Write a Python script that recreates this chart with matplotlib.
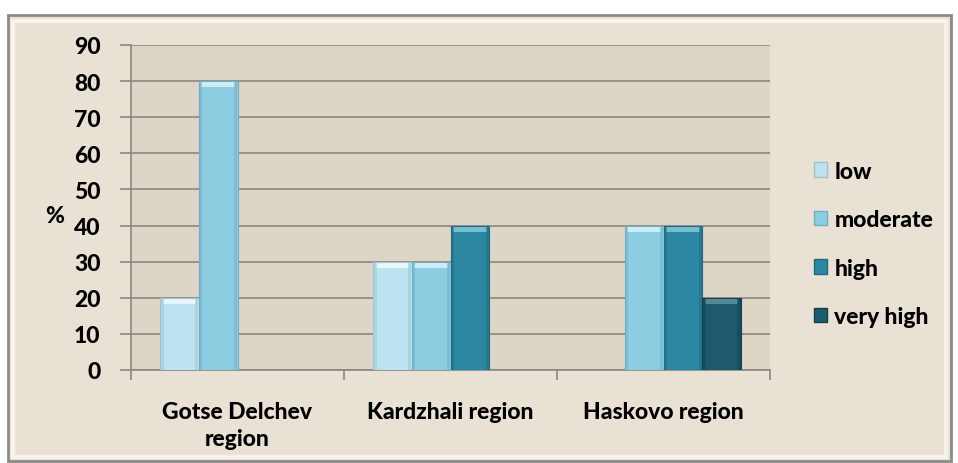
import numpy as np
import matplotlib.pyplot as plt
from matplotlib.patches import Rectangle, Patch

categories = ['Gotse Delchev\nregion', 'Kardzhali region', 'Haskovo region']
series = ['low', 'moderate', 'high', 'very high']
low = [20, 30, 0]
moderate = [80, 30, 40]
high = [0, 40, 40]
very_high = [0, 0, 20]
values = [low, moderate, high, very_high]
yticks = [0, 10, 20, 30, 40, 50, 60, 70, 80, 90]

colors = ['#BDE3F0', '#8DCDE2', '#2C87A3', '#1E5A6D']
caps = ['#E8F6FB', '#CDECF6', '#78BCD0', '#55899A']
edges = ['#9CC4D2', '#6EAFC4', '#21697F', '#163F4D']

plt.rcParams['font.family'] = ['Lato', 'DejaVu Sans']
FW = 'black'
FS = 16.5

fig = plt.figure(figsize=(9.58, 4.64), dpi=100)
fig.patch.set_facecolor('white')

# outer frame with bevel look
fig.patches.append(Rectangle((8 / 958, 2 / 464), 943 / 958, 446 / 464,
                             transform=fig.transFigure, facecolor='#E9E1D3',
                             edgecolor='#8A8A8A', linewidth=2, zorder=-2))
fig.patches.append(Rectangle((13 / 958, 6 / 464), 933 / 958, 436 / 464,
                             transform=fig.transFigure, facecolor='none',
                             edgecolor='#F7F3EA', linewidth=3, zorder=-1))

ax = fig.add_axes([131 / 958, 1 - 371 / 464, 639 / 958, 325 / 464])
ax.set_zorder(2)
ax.set_facecolor('#DDD5C6')

x = np.arange(len(categories))
w = 1 / 5.5
cap_h = 1.4
for i, vals in enumerate(values):
    pos = x + (i - 1.5) * w
    for p, v in zip(pos, vals):
        if v <= 0:
            continue
        ax.bar(p, v, w, color=colors[i], edgecolor=edges[i], linewidth=0.8, zorder=3)
        ax.bar(p, cap_h, w * 0.86, bottom=v - cap_h - 0.3, color=caps[i],
               linewidth=0, zorder=4)
        ax.bar(p - w * 0.45, v - 0.3, w * 0.08, bottom=0.1, color=edges[i],
               alpha=0.5, linewidth=0, zorder=4)
        ax.bar(p + w * 0.45, v - 0.3, w * 0.08, bottom=0.1, color=edges[i],
               alpha=0.5, linewidth=0, zorder=4)

ax.set_xlim(-0.5, len(categories) - 0.5)
ax.set_ylim(0, 90)
ax.set_yticks(yticks)
ax.set_yticklabels([str(t) for t in yticks], fontsize=FS, fontweight=FW)
ax.yaxis.grid(True, color='#8C8681', linewidth=1.2, zorder=1)
ax.set_axisbelow(True)

ax.set_xticks(x)
ax.set_xticklabels(categories, fontsize=FS, fontweight=FW, linespacing=1.35)
ax.set_xticks(np.arange(len(categories) + 1) - 0.5, minor=True)
ax.tick_params(axis='x', which='major', length=0, pad=22)
ax.tick_params(axis='x', which='minor', length=7, color='#8C8681', width=1.2)
ax.tick_params(axis='y', length=8, color='#8C8681', width=1.2, pad=14)

for s in ['top', 'right']:
    ax.spines[s].set_visible(False)
for s in ['left', 'bottom']:
    ax.spines[s].set_color('#8C8681')
    ax.spines[s].set_linewidth(1.2)

fig.text(55 / 958, 1 - 217 / 464, '%', fontsize=FS, fontweight=FW,
         ha='center', va='center')

handles = [Patch(facecolor=colors[i], edgecolor=edges[i], label=series[i])
           for i in range(len(series))]
leg = fig.legend(handles=handles, loc='upper left',
                 bbox_to_anchor=(793 / 958, 1 - 141 / 464), frameon=False,
                 prop={'size': FS, 'weight': FW}, labelspacing=1.2,
                 handlelength=0.6, handleheight=0.6, handletextpad=0.3)

fig.savefig('out.png', dpi=100)
